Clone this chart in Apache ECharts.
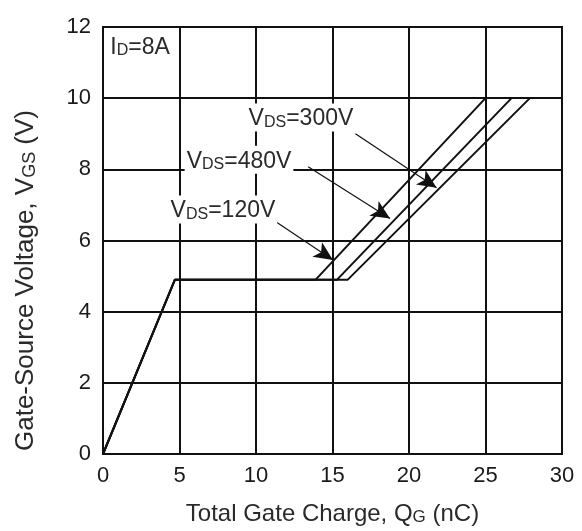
<!DOCTYPE html>
<html>
<head>
<meta charset="utf-8">
<script src="https://cdn.jsdelivr.net/npm/echarts@6/dist/echarts.min.js"></script>
<style>
  html, body { margin: 0; padding: 0; background: #fff; }
  #chart { width: 582px; height: 531px; }
</style>
</head>
<body>
<div id="chart"></div>
<script>
// gate charge curves, Qg (nC) vs Vgs (V)
const vgs = [0, 4.9, 4.9, 10];
const qg120 = [0, 4.7, 13.9, 25.0];
const qg480 = [0, 4.7, 15.3, 26.7];
const qg300 = [0, 4.7, 16.0, 27.9];

const xTicks = [0, 5, 10, 15, 20, 25, 30];
const yTicks = [0, 2, 4, 6, 8, 10, 12];

// annotation text anchors [qg, vgs] and arrows [from, to]
const labels = [
  { text: '{m|V}{s|DS}{m|=300V}', at: [12.94, 9.46] },
  { text: '{m|V}{s|DS}{m|=480V}', at: [8.89, 8.27] },
  { text: '{m|V}{s|DS}{m|=120V}', at: [7.84, 6.87] }
];
const arrows = [
  [[16.5, 9.0], [21.8, 7.48]],
  [[13.41, 8.07], [18.76, 6.62]],
  [[11.25, 6.54], [15.03, 5.45]]
];
const idLabel = { text: '{m|I}{s|D}{m|=8A}', at: [0.35, 11.47] };

const FONT = 'Liberation Sans';
const rich = {
  m: { fontSize: 23, lineHeight: 26, verticalAlign: 'bottom', color: '#2a2a2a', fontFamily: FONT },
  s: { fontSize: 16, lineHeight: 14, verticalAlign: 'bottom', color: '#2a2a2a', fontFamily: FONT }
};

function zip(xs, ys) {
  return xs.map((x, i) => [x, ys[i]]);
}

const chart = echarts.init(document.getElementById('chart'), null, { renderer: 'canvas' });

const lineStyle = { color: '#111', width: 2 };

const option = {
  animation: false,
  backgroundColor: '#fff',
  grid: {
    left: 103, right: 20, top: 27, bottom: 74,
    show: true, borderColor: '#111', borderWidth: 2
  },
  xAxis: {
    type: 'value',
    min: xTicks[0], max: xTicks[xTicks.length - 1], interval: 5,
    name: '{m|Total Gate Charge, Q}{s|G}{m| (nC)}',
    nameLocation: 'middle',
    nameGap: 45,
    nameTextStyle: {
      rich: {
        m: Object.assign({}, rich.m, { fontSize: 24, lineHeight: 27 }),
        s: Object.assign({}, rich.s, { fontSize: 17, lineHeight: 15 })
      }
    },
    axisLine: { lineStyle: { color: '#111', width: 2 } },
    axisTick: { show: false },
    axisLabel: { fontSize: 22, color: '#1a1a1a', fontFamily: FONT, margin: 11 },
    splitLine: { lineStyle: { color: '#111', width: 2 } }
  },
  yAxis: {
    type: 'value',
    min: yTicks[0], max: yTicks[yTicks.length - 1], interval: 2,
    name: '{m|Gate-Source Voltage, V}{s|GS}{m| (V)}',
    nameLocation: 'middle',
    nameGap: 64,
    nameTextStyle: {
      rich: {
        m: Object.assign({}, rich.m, { fontSize: 26, lineHeight: 29 }),
        s: Object.assign({}, rich.s, { fontSize: 18, lineHeight: 16 })
      },
      padding: [0, 80, 0, 0]
    },
    axisLine: { lineStyle: { color: '#111', width: 2 } },
    axisTick: { show: false },
    axisLabel: { fontSize: 22, color: '#1a1a1a', fontFamily: FONT, margin: 12 },
    splitLine: { lineStyle: { color: '#111', width: 2 } }
  },
  series: [
    {
      name: 'VDS=120V', type: 'line', data: zip(qg120, vgs),
      showSymbol: false, lineStyle: lineStyle, z: 3,
      markLine: {
        silent: true,
        symbol: ['none', 'arrow'],
        symbolSize: [13, 19],
        label: { show: false },
        lineStyle: { color: '#111', width: 1.2, type: 'solid' },
        data: arrows.map(a => [{ coord: a[0] }, { coord: a[1] }])
      },
      markPoint: {
        silent: true,
        symbol: 'rect',
        symbolSize: 1,
        itemStyle: { color: 'rgba(0,0,0,0)' },
        label: {
          show: true, position: 'inside',
          backgroundColor: '#fff', padding: [1, 2, 1, 2],
          rich: rich,
          formatter: p => p.data.text
        },
        data: labels.map(l => ({ coord: l.at, text: l.text })).concat([{
          coord: idLabel.at, text: idLabel.text,
          label: { align: 'left', backgroundColor: '#fff', padding: [1, 2, 1, 2] }
        }])
      }
    },
    { name: 'VDS=480V', type: 'line', data: zip(qg480, vgs), showSymbol: false, lineStyle: lineStyle, z: 3 },
    { name: 'VDS=300V', type: 'line', data: zip(qg300, vgs), showSymbol: false, lineStyle: lineStyle, z: 3 }
  ]
};

chart.setOption(option);
</script>
</body>
</html>
